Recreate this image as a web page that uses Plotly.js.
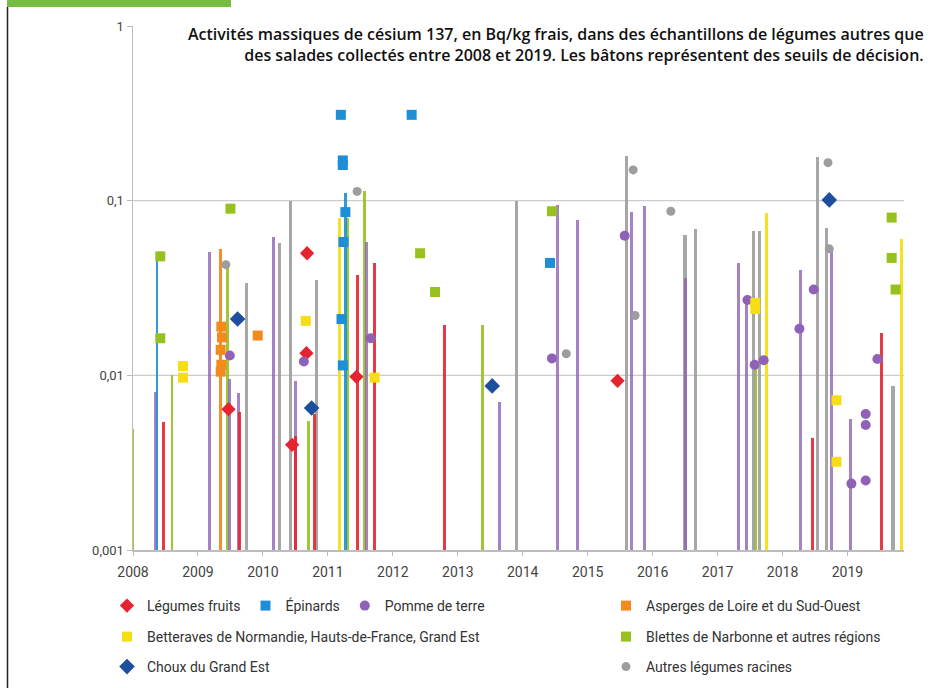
<!DOCTYPE html>
<html>
<head>
<meta charset="utf-8">
<script src="https://cdn.plot.ly/plotly-3.0.1.min.js"></script>
<style>html,body{margin:0;padding:0;background:#fff;}#chart{width:941px;height:688px;}</style>
</head>
<body>
<div id="chart"></div>
<script>
// ---------- DATA ----------
const yearTicks = [2008, 2009, 2010, 2011, 2012, 2013, 2014, 2015, 2016, 2017, 2018, 2019];
const yTickVals = [0.001, 0.01, 0.1, 1];
const yTickText = ['0,001', '0,01', '0,1', '1'];
const yGridVals = [0.01, 0.1];

// Légumes fruits
const fruitsBarX = [2008.47, 2009.64, 2010.5, 2010.8, 2011.46, 2011.72, 2012.8, 2018.46, 2019.53];
const fruitsBarY = [0.0054, 0.0062, 0.0045, 0.006, 0.0375, 0.044, 0.0194, 0.0044, 0.0175];
const fruitsPtX = [2009.47, 2010.45, 2010.68, 2010.67, 2011.44, 2015.46];
const fruitsPtY = [0.0064, 0.004, 0.05, 0.0134, 0.0098, 0.0093];

// Épinards
const epinardsBarX = [2008.37, 2011.27];
const epinardsBarY = [0.045, 0.11];
const epinardsPtX = [2011.2, 2011.23, 2011.23, 2011.27, 2011.24, 2011.21, 2011.23, 2012.29, 2014.42];
const epinardsPtY = [0.31, 0.17, 0.16, 0.086, 0.058, 0.021, 0.0114, 0.31, 0.044];

// Pomme de terre
const pommeBarX = [2008.35, 2009.18, 2009.48, 2009.62, 2010.17, 2010.5, 2011.6, 2013.64, 2014.53, 2014.84, 2015.68, 2015.87, 2016.5, 2017.32, 2017.45, 2018.28, 2018.75, 2019.05];
const pommeBarY = [0.008, 0.051, 0.0095, 0.0079, 0.062, 0.0093, 0.058, 0.007, 0.095, 0.077, 0.086, 0.093, 0.036, 0.044, 0.026, 0.04, 0.054, 0.0056];
const pommePtX = [2009.49, 2010.63, 2011.66, 2014.45, 2015.57, 2017.46, 2017.57, 2017.71, 2018.26, 2018.48, 2019.06, 2019.28, 2019.28, 2019.28, 2019.46];
const pommePtY = [0.013, 0.012, 0.0163, 0.0125, 0.063, 0.027, 0.0115, 0.0122, 0.0185, 0.031, 0.0024, 0.006, 0.0052, 0.0025, 0.0124];

// Asperges de Loire et du Sud-Ouest
const aspergesBarX = [2009.35];
const aspergesBarY = [0.053];
const aspergesPtX = [2009.36, 2009.37, 2009.35, 2009.36, 2009.35, 2009.92];
const aspergesPtY = [0.019, 0.0165, 0.014, 0.0115, 0.0105, 0.0169];

// Betteraves de Normandie, Hauts-de-France, Grand Est
const betteravesBarX = [2011.18, 2017.75, 2019.83];
const betteravesBarY = [0.08, 0.085, 0.06];
const betteravesPtX = [2008.77, 2008.77, 2010.66, 2011.72, 2017.58, 2017.58, 2018.83, 2018.83];
const betteravesPtY = [0.0113, 0.0097, 0.0205, 0.0097, 0.026, 0.024, 0.0072, 0.0032];

// Blettes de Narbonne et autres régions
const blettesBarX = [2008.0, 2008.6, 2009.45, 2010.7, 2011.3, 2011.57, 2013.38, 2017.58];
const blettesBarY = [0.0049, 0.01, 0.045, 0.0055, 0.08, 0.113, 0.0194, 0.012];
const blettesPtX = [2008.42, 2008.42, 2009.5, 2012.42, 2012.65, 2014.45, 2019.68, 2019.68, 2019.74];
const blettesPtY = [0.048, 0.0163, 0.09, 0.05, 0.03, 0.087, 0.08, 0.047, 0.031];

// Choux du Grand Est
const chouxPtX = [2009.61, 2010.75, 2013.53, 2018.72];
const chouxPtY = [0.021, 0.0065, 0.0087, 0.101];

// Autres légumes racines
const autresBarX = [2009.75, 2010.26, 2010.43, 2010.82, 2013.9, 2015.6, 2016.5, 2016.66, 2017.55, 2017.65, 2018.54, 2018.68, 2019.7];
const autresBarY = [0.034, 0.057, 0.1, 0.035, 0.1, 0.18, 0.064, 0.069, 0.067, 0.067, 0.178, 0.07, 0.0087];
const autresPtX = [2009.43, 2011.45, 2014.67, 2015.7, 2015.73, 2016.28, 2018.7, 2018.72];
const autresPtY = [0.043, 0.113, 0.0133, 0.15, 0.022, 0.087, 0.165, 0.053];

const titleText = 'Activités massiques de césium 137, en Bq/kg frais, dans des échantillons de légumes autres que<br>des salades collectés entre 2008 et 2019. Les bâtons représentent des seuils de décision.';

// ---------- STYLE ----------
const C = {
  fruits: '#e42530', epinards: '#1d8fd6', pomme: '#8f62b8', asperges: '#f28a1e',
  betteraves: '#f7dd16', blettes: '#96c11f', choux: '#1e4f9e', autres: '#9d9d9d'
};

// pixel helpers for paper positioning (plot area: x 133..904, y 26..550)
const PL = 133, PR = 904, PT = 26, PB = 550;
const px = v => (v - PL) / (PR - PL);
const py = v => (PB - v) / (PB - PT);
const logPaper = v => (Math.log10(v) + 3) / 3;

function bars(x, y, color, w, op) {
  return {type: 'bar', x: x, y: y, width: w, marker: {color: color, opacity: op, line: {width: 0}},
          showlegend: false, hoverinfo: 'x+y'};
}
function pts(x, y, name, color, symbol, size, legend) {
  return {type: 'scatter', mode: 'markers', x: x, y: y, name: name, legend: legend,
          marker: {color: color, symbol: symbol, size: size, line: {width: 0}}};
}

const traces = [
  bars(blettesBarX, blettesBarY, C.blettes, 0.045, 0.9),
  bars(autresBarX, autresBarY, C.autres, 0.05, 0.9),
  bars(pommeBarX, pommeBarY, C.pomme, 0.045, 0.8),
  bars(epinardsBarX, epinardsBarY, C.epinards, 0.045, 0.9),
  bars(aspergesBarX, aspergesBarY, C.asperges, 0.05, 0.95),
  bars(betteravesBarX, betteravesBarY, C.betteraves, 0.045, 0.95),
  bars(fruitsBarX, fruitsBarY, C.fruits, 0.045, 0.9),
  pts(fruitsPtX, fruitsPtY, 'Légumes fruits', C.fruits, 'diamond', 11, 'legend'),
  pts(epinardsPtX, epinardsPtY, 'Épinards', C.epinards, 'square', 10, 'legend'),
  pts(pommePtX, pommePtY, 'Pomme de terre', C.pomme, 'circle', 10, 'legend'),
  pts(aspergesPtX, aspergesPtY, 'Asperges de Loire et du Sud-Ouest', C.asperges, 'square', 10, 'legend2'),
  pts(betteravesPtX, betteravesPtY, 'Betteraves de Normandie, Hauts-de-France, Grand Est', C.betteraves, 'square', 10, 'legend3'),
  pts(blettesPtX, blettesPtY, 'Blettes de Narbonne et autres régions', C.blettes, 'square', 10, 'legend4'),
  pts(chouxPtX, chouxPtY, 'Choux du Grand Est', C.choux, 'diamond', 12, 'legend5'),
  pts(autresPtX, autresPtY, 'Autres légumes racines', C.autres, 'circle', 9, 'legend6')
];

const legFont = {family: 'Roboto, sans-serif', size: 14, color: '#333'};
function leg(xpix, ycenter, orient) {
  return {x: px(xpix), y: py(ycenter), xanchor: 'left', yanchor: 'middle', orientation: orient || 'v',
          font: legFont, bgcolor: 'rgba(0,0,0,0)', borderwidth: 0, itemwidth: 30, tracegroupgap: 0};
}

const shapes = [
  {type: 'rect', xref: 'paper', yref: 'paper', x0: px(7), x1: px(231), y0: py(0), y1: py(7),
   fillcolor: '#77bc43', line: {width: 0}},
  {type: 'line', xref: 'paper', yref: 'paper', x0: px(7.5), x1: px(7.5), y0: py(7), y1: py(688),
   line: {color: '#222', width: 1.5}}
];
yGridVals.forEach(v => shapes.push({type: 'line', xref: 'paper', yref: 'paper', x0: 0, x1: 1,
  y0: logPaper(v), y1: logPaper(v), layer: 'below', line: {color: '#cccccc', width: 1.3}}));

const layout = {
  width: 941, height: 688,
  margin: {l: PL, r: 941 - PR, t: PT, b: 688 - PB, pad: 0, autoexpand: false},
  paper_bgcolor: '#ffffff', plot_bgcolor: 'rgba(0,0,0,0)',
  barmode: 'overlay', bargap: 0,
  font: {family: 'Roboto, sans-serif', color: '#444'},
  annotations: [{
    text: titleText, xref: 'paper', yref: 'paper', x: px(926), y: py(21), xanchor: 'right', yanchor: 'top',
    align: 'right', showarrow: false,
    font: {family: 'Open Sans, sans-serif', size: 16, weight: 600, color: '#111'}
  }],
  xaxis: {
    type: 'linear', range: [2008, 2019.87], tickvals: yearTicks, ticktext: yearTicks.map(String),
    showgrid: false, zeroline: false, showline: true, linecolor: '#bdbdbd', linewidth: 1.5,
    ticks: 'outside', ticklen: 4, tickcolor: '#bdbdbd', ticklabelstandoff: 5,
    tickfont: {family: 'Roboto, sans-serif', size: 14, color: '#444'}
  },
  yaxis: {
    type: 'log', range: [-3, 0], tickvals: yTickVals, ticktext: yTickText,
    showgrid: false, zeroline: false, showline: true, linecolor: '#bdbdbd', linewidth: 1.5,
    ticks: 'outside', ticklen: 5, tickcolor: '#bdbdbd',
    tickfont: {family: 'Roboto, sans-serif', size: 13, color: '#444'}
  },
  legend: leg(107, 606, 'h'),
  legend2: leg(606, 606),
  legend3: leg(107, 637),
  legend4: leg(606, 637),
  legend5: leg(107, 667),
  legend6: leg(606, 667),
  shapes: shapes
};

Plotly.newPlot('chart', traces, layout, {displayModeBar: false, staticPlot: true});
</script>
</body>
</html>
